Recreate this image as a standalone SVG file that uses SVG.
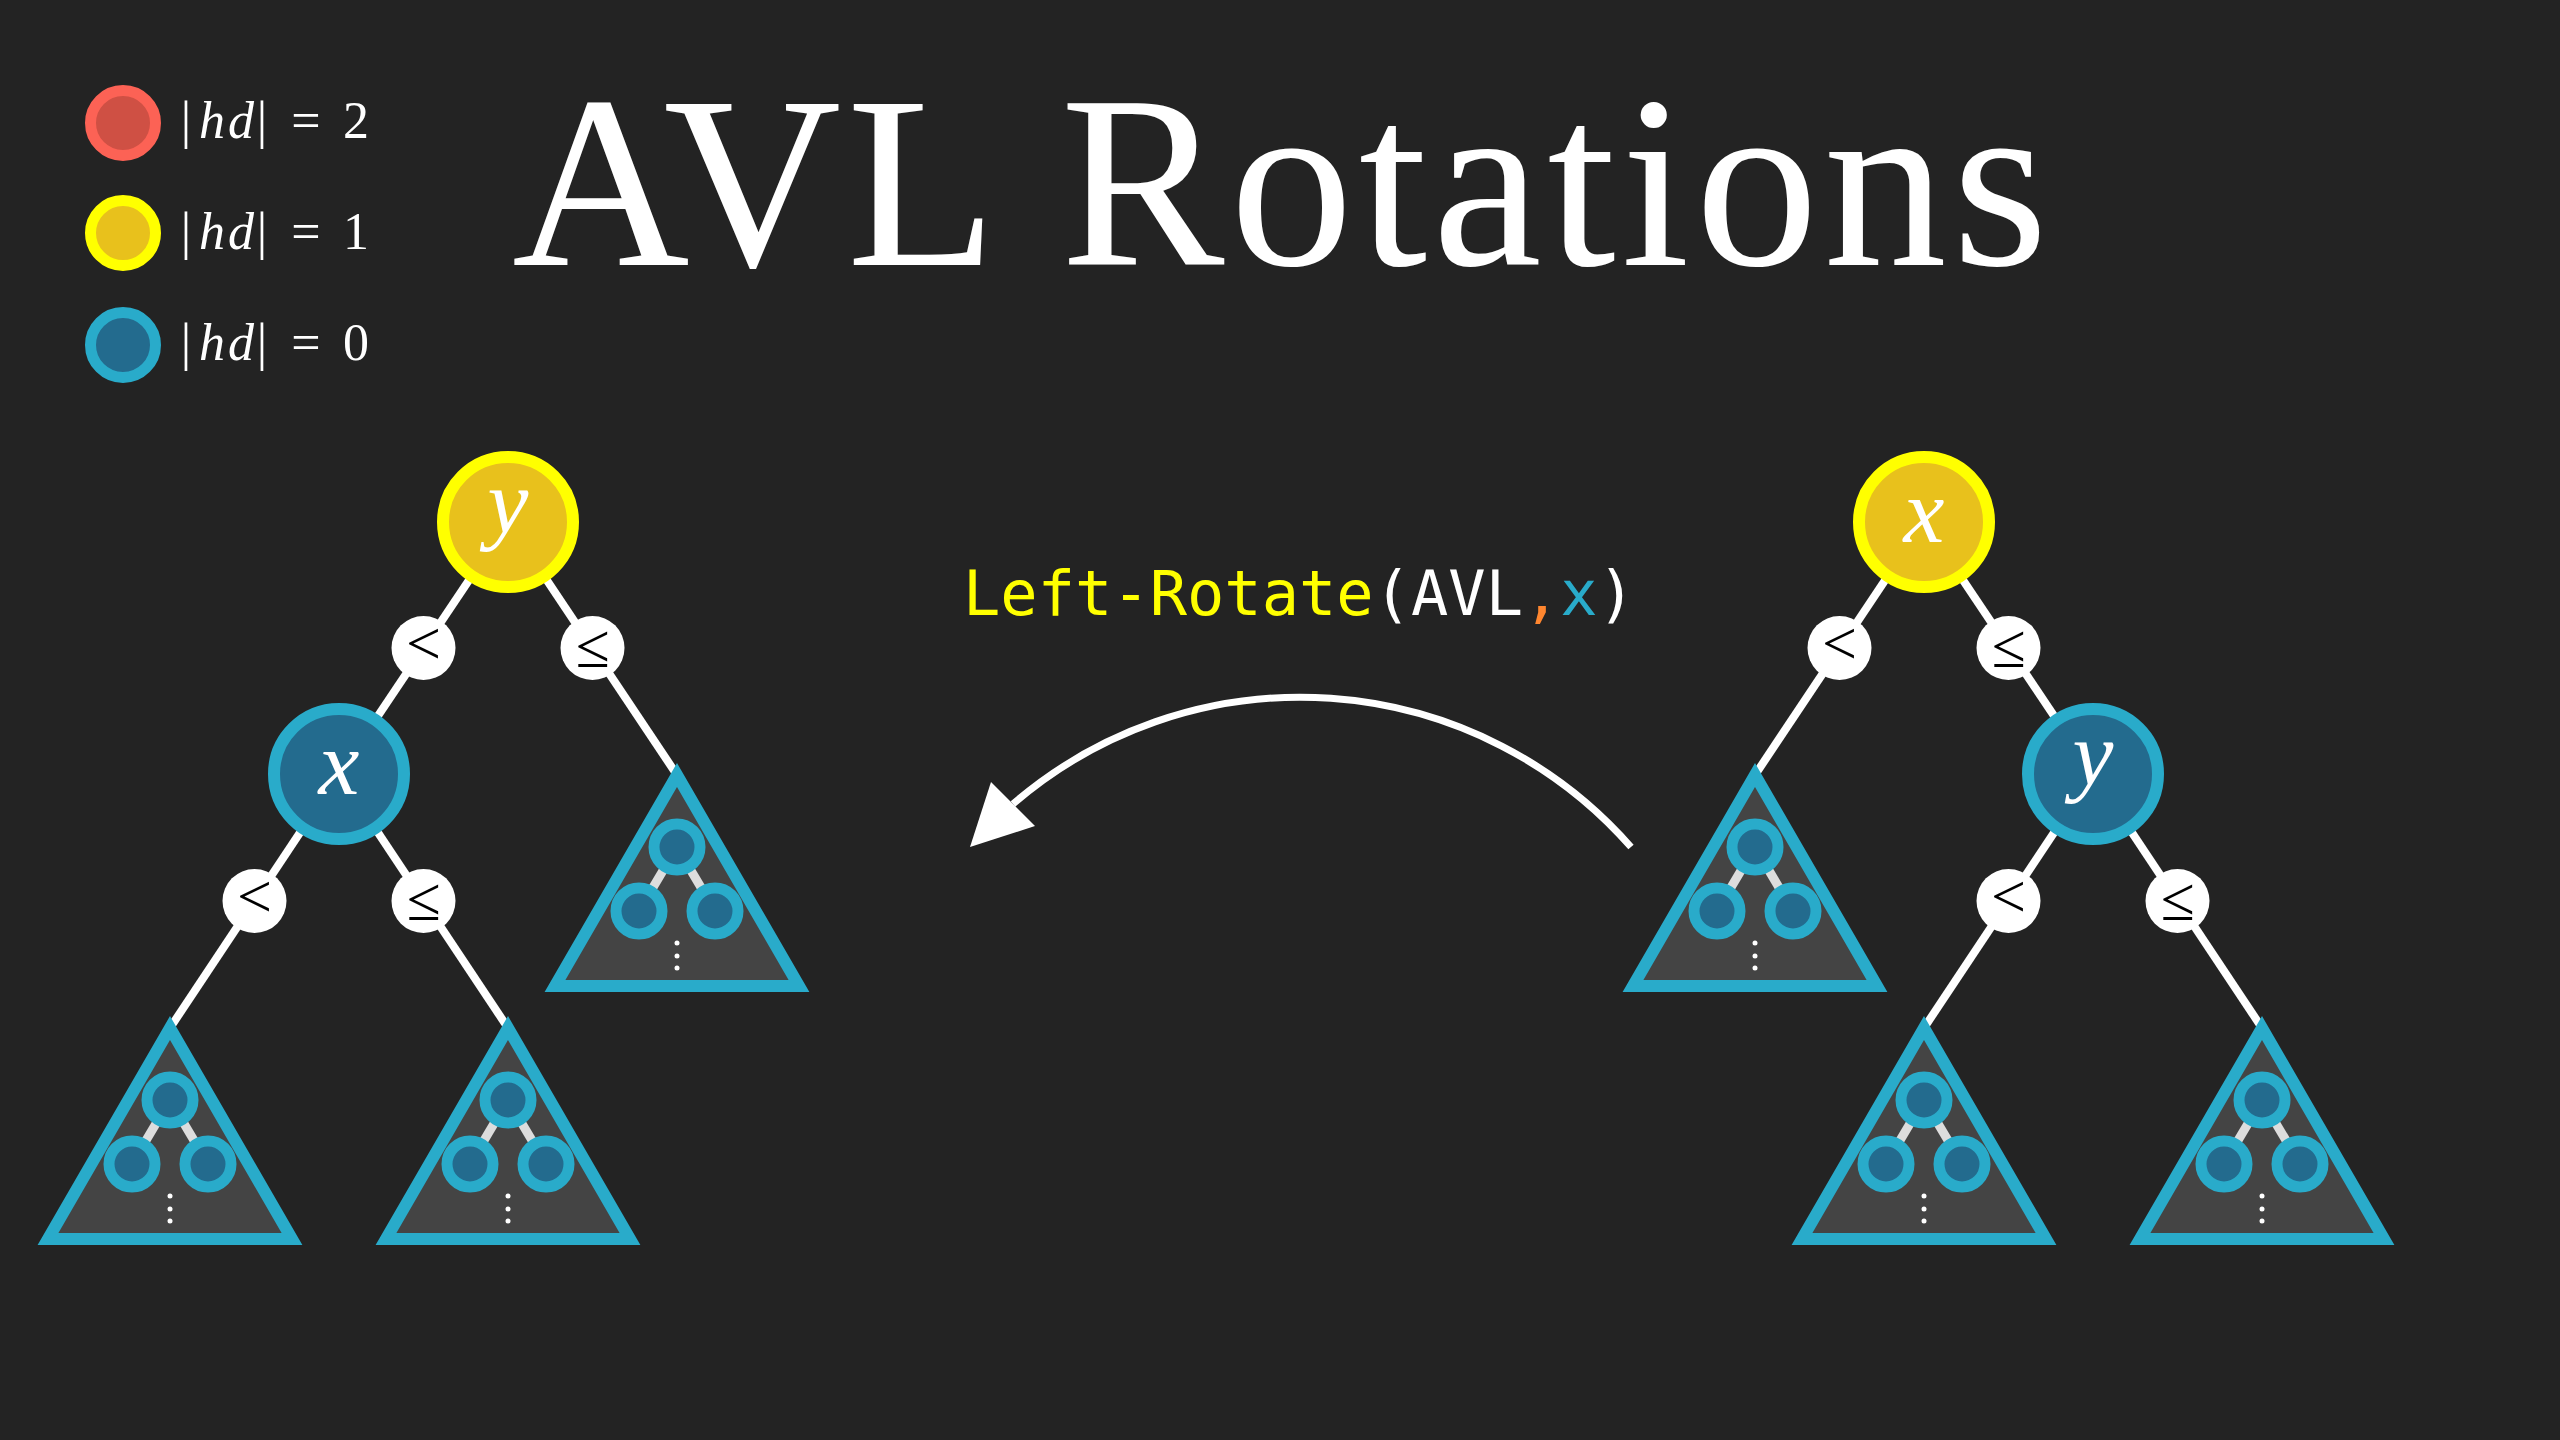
<svg xmlns="http://www.w3.org/2000/svg" xmlns:xlink="http://www.w3.org/1999/xlink" width="2560" height="1440" viewBox="0 0 2560 1440">
<style>
.bg{fill:#232323}
.edge{stroke:#ffffff;stroke-width:8;fill:none}
.ny{fill:#E8C11C;stroke:#FFFF00;stroke-width:12}
.nb{fill:#236B8E;stroke:#29ABCA;stroke-width:12}
.lbl{fill:#ffffff}
.lt{font-family:"Liberation Serif","DejaVu Serif",serif;font-size:62px;fill:#000000;text-anchor:middle}
.nt{font-family:"Liberation Serif","DejaVu Serif",serif;font-style:italic;font-size:92px;fill:#ffffff;text-anchor:middle}
.leg{font-family:"Liberation Serif","DejaVu Serif",serif;font-size:52px;fill:#ffffff;text-anchor:middle}
.code{font-family:"DejaVu Sans Mono","Liberation Mono",monospace;font-size:62px}
.tri{fill:#444444;stroke:#29ABCA;stroke-width:12;stroke-linejoin:miter}
.sn{fill:#236B8E;stroke:#29ABCA;stroke-width:11}
.sl{stroke:#DDDDDD;stroke-width:9}
</style>
<defs>
<g id="subtree">
<polygon class="tri" points="0,11 -122,222 122,222"/>
<line class="sl" x1="0" y1="83" x2="-38" y2="147"/>
<line class="sl" x1="0" y1="83" x2="38" y2="147"/>
<circle class="sn" cx="0" cy="83" r="23"/>
<circle class="sn" cx="-38" cy="147" r="23"/>
<circle class="sn" cx="38" cy="147" r="23"/>
<circle cx="0" cy="179" r="2.5" fill="#ffffff"/>
<circle cx="0" cy="192" r="2.5" fill="#ffffff"/>
<circle cx="0" cy="204" r="2.5" fill="#ffffff"/>
</g>
</defs>
<rect class="bg" x="0" y="0" width="2560" height="1440"/>

<text id="title" x="512" y="265" font-family="'Liberation Serif','DejaVu Serif',serif" font-size="246" fill="#ffffff" textLength="1536">AVL Rotations</text>

<g id="legend">
<g id="legend-2">
<circle cx="123" cy="123" r="32.5" fill="#CF5044" stroke="#FC6255" stroke-width="11"/>
<text class="leg" y="138"><tspan x="186">|</tspan><tspan x="212" font-style="italic">h</tspan><tspan x="241" font-style="italic">d</tspan><tspan x="262">|</tspan><tspan x="306"> = </tspan><tspan x="356">2</tspan></text>
</g>
<g id="legend-1">
<circle cx="123" cy="233" r="32.5" fill="#E8C11C" stroke="#FFFF00" stroke-width="11"/>
<text class="leg" y="249"><tspan x="186">|</tspan><tspan x="212" font-style="italic">h</tspan><tspan x="241" font-style="italic">d</tspan><tspan x="262">|</tspan><tspan x="306"> = </tspan><tspan x="356">1</tspan></text>
</g>
<g id="legend-0">
<circle cx="123" cy="345" r="32.5" fill="#236B8E" stroke="#29ABCA" stroke-width="11"/>
<text class="leg" y="360"><tspan x="186">|</tspan><tspan x="212" font-style="italic">h</tspan><tspan x="241" font-style="italic">d</tspan><tspan x="262">|</tspan><tspan x="306"> = </tspan><tspan x="356">0</tspan></text>
</g>
</g>

<text id="code" class="code" x="963" y="615" textLength="672"><tspan fill="#FFFF00">Left-Rotate</tspan><tspan fill="#ffffff">(AVL</tspan><tspan fill="#FF862F">,</tspan><tspan fill="#29ABCA">x</tspan><tspan fill="#ffffff">)</tspan></text>

<g id="connectors">
<line class="edge" x1="508" y1="522" x2="339" y2="774"/>
<line class="edge" x1="508" y1="522" x2="677" y2="775"/>
<line class="edge" x1="339" y1="774" x2="170" y2="1028"/>
<line class="edge" x1="339" y1="774" x2="508" y2="1028"/>
<line class="edge" x1="1924" y1="522" x2="1755" y2="775"/>
<line class="edge" x1="1924" y1="522" x2="2093" y2="774"/>
<line class="edge" x1="2093" y1="774" x2="1924" y2="1028"/>
<line class="edge" x1="2093" y1="774" x2="2262" y2="1028"/>
<path id="rotate-arrow" d="M 1631 847 A 440 440 0 0 0 1013 804" stroke="#ffffff" stroke-width="7" fill="none"/>
<polygon points="970,847 991,782 1035,826" fill="#ffffff"/>
</g>

<g id="left-tree">
<g id="L-TA"><use xlink:href="#subtree" href="#subtree" transform="translate(170,1017)"/></g>
<g id="L-TB"><use xlink:href="#subtree" href="#subtree" transform="translate(508,1017)"/></g>
<g id="L-TC"><use xlink:href="#subtree" href="#subtree" transform="translate(677,764)"/></g>
<g id="L-lbl1"><circle class="lbl" cx="423.5" cy="648" r="32"/><text class="lt" x="423.5" y="664">&lt;</text></g>
<g id="L-lbl2"><circle class="lbl" cx="592.5" cy="648" r="32"/><text class="lt" x="592.5" y="667">≤</text></g>
<g id="L-lbl3"><circle class="lbl" cx="254.5" cy="901" r="32"/><text class="lt" x="254.5" y="917">&lt;</text></g>
<g id="L-lbl4"><circle class="lbl" cx="423.5" cy="901" r="32"/><text class="lt" x="423.5" y="920">≤</text></g>
<g id="L-y"><circle class="ny" cx="508" cy="522" r="65"/><text class="nt" x="508" y="533">y</text></g>
<g id="L-x"><circle class="nb" cx="339" cy="774" r="65"/><text class="nt" x="339" y="794">x</text></g>
</g>

<g id="right-tree">
<g id="R-TA"><use xlink:href="#subtree" href="#subtree" transform="translate(1755,764)"/></g>
<g id="R-TB"><use xlink:href="#subtree" href="#subtree" transform="translate(1924,1017)"/></g>
<g id="R-TC"><use xlink:href="#subtree" href="#subtree" transform="translate(2262,1017)"/></g>
<g id="R-lbl1"><circle class="lbl" cx="1839.5" cy="648" r="32"/><text class="lt" x="1839.5" y="664">&lt;</text></g>
<g id="R-lbl2"><circle class="lbl" cx="2008.5" cy="648" r="32"/><text class="lt" x="2008.5" y="667">≤</text></g>
<g id="R-lbl3"><circle class="lbl" cx="2008.5" cy="901" r="32"/><text class="lt" x="2008.5" y="917">&lt;</text></g>
<g id="R-lbl4"><circle class="lbl" cx="2177.5" cy="901" r="32"/><text class="lt" x="2177.5" y="920">≤</text></g>
<g id="R-x"><circle class="ny" cx="1924" cy="522" r="65"/><text class="nt" x="1924" y="542">x</text></g>
<g id="R-y"><circle class="nb" cx="2093" cy="774" r="65"/><text class="nt" x="2093" y="785">y</text></g>
</g>
</svg>
